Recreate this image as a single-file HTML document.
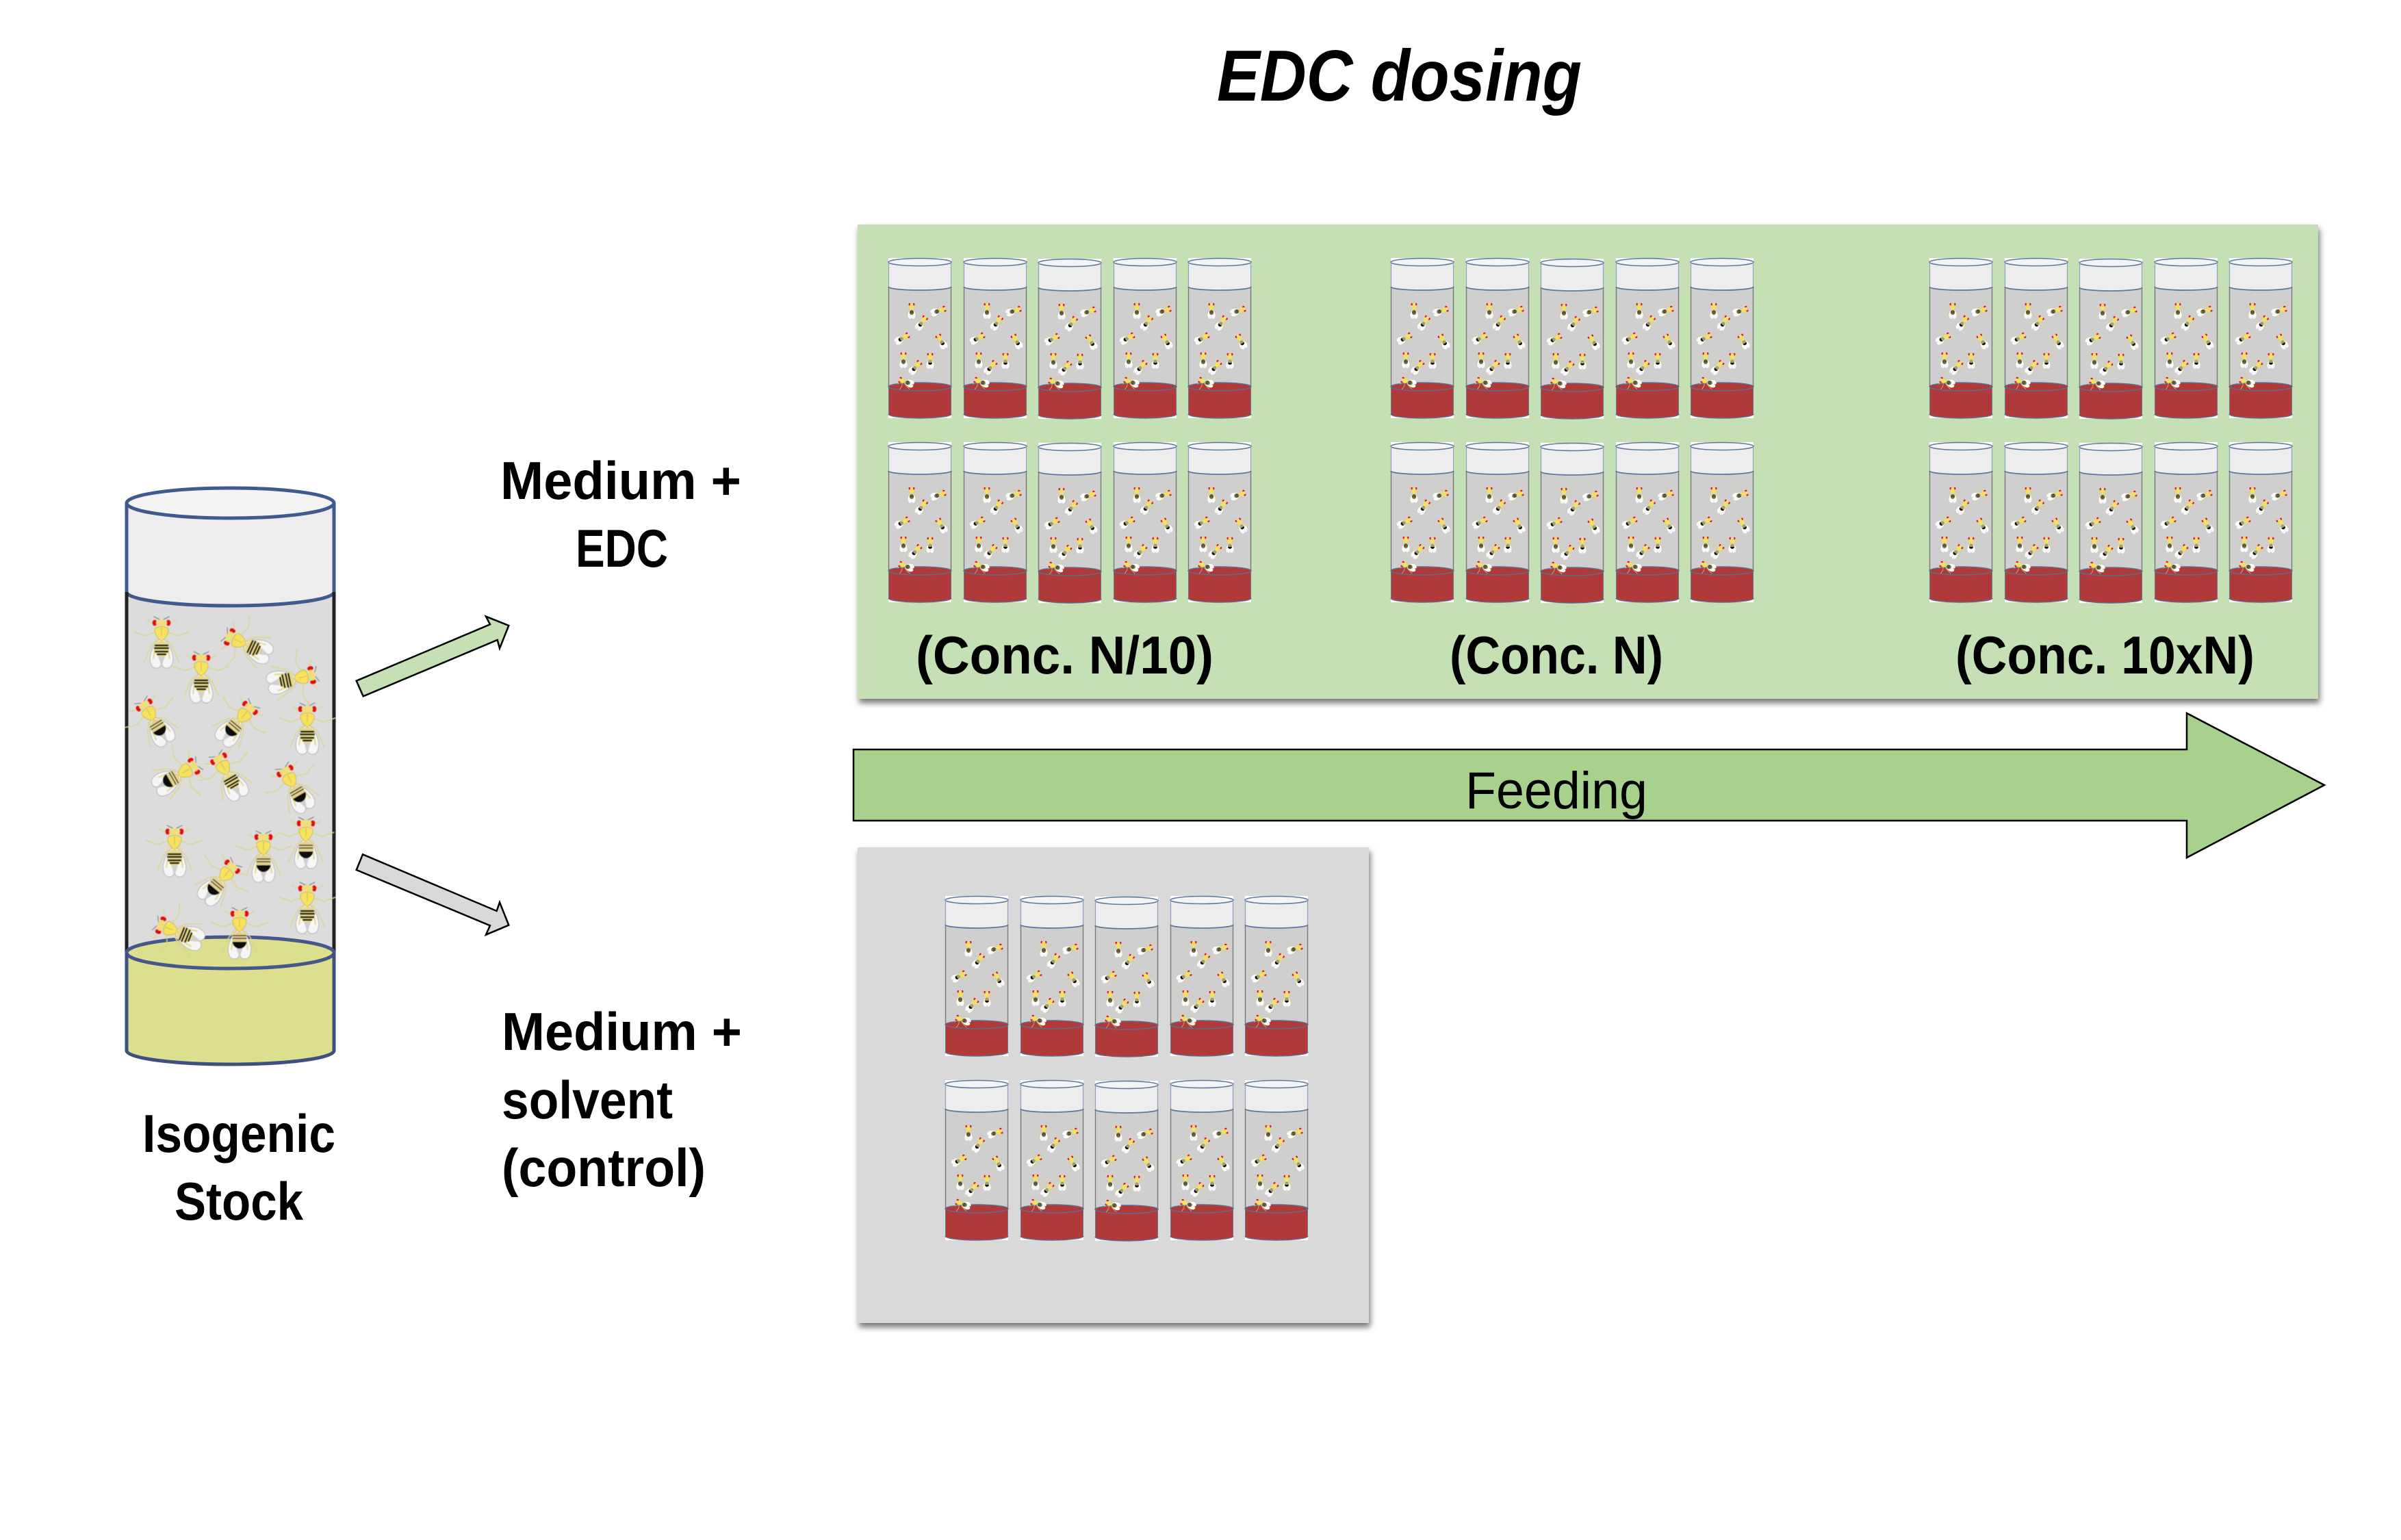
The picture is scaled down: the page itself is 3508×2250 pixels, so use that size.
<!DOCTYPE html>
<html><head><meta charset="utf-8"><title>EDC dosing</title>
<style>html,body{margin:0;padding:0;background:#fff}svg{display:block}
text{font-family:"Liberation Sans",sans-serif;fill:#000}</style></head>
<body>
<svg xmlns="http://www.w3.org/2000/svg" width="3508" height="2250" viewBox="0 0 3508 2250">
<defs>
<filter id="sh" x="-5%" y="-5%" width="110%" height="110%"><feDropShadow dx="2" dy="6" stdDeviation="4.5" flood-color="#000" flood-opacity=".55"/></filter>
<filter id="soft" x="-5%" y="-5%" width="110%" height="110%"><feGaussianBlur stdDeviation=".5"/></filter>
<g id="flybase">
<g fill="none" stroke="#dcd48e" stroke-width="1.5" stroke-linecap="round">
<path d="M-8-23L-22-31M8-23L22-31M-10-13L-24-8L-41-14M10-13L24-8L41-14M-8-2L-16 8L-25 29M8-2L16 8L25 29"/>
<path d="M-3-32L-11-36M3-32L11-36" stroke="#777" stroke-width="1"/>
</g>
<path d="M-3-3C-12 3-19 22-16 31C-14 41-3 41-1 35L0 29L1 35C3 41 14 41 16 31C19 22 12 3 3-3Z" fill="#f6f6f6" stroke="#adadad" stroke-width=".9"/>
<path d="M-5 22L0 37L5 22Z" fill="#cfcfcf"/>
<path d="M-8-2L-12 26M8-2L12 26" stroke="#e2d98f" stroke-width="2.200" fill="none"/>
<ellipse cx="-10" cy="-27" rx="3.400" ry="4.400" fill="#e01010"/><ellipse cx="10" cy="-27" rx="3.400" ry="4.400" fill="#e01010"/>
<ellipse cx="0" cy="-27" rx="8" ry="5" fill="#f1de7a"/>
<path d="M-10-17C-10-23 10-23 10-17C10-9 4-2 0-1C-4-2-10-9-10-17Z" fill="#f6e160" stroke="#c7ae3a" stroke-width=".8"/>
<path d="M0-20V-8" stroke="#c7ae3a" stroke-width=".8"/>
</g>
<g id="fs"><use href="#flybase"/>
<ellipse cx="0" cy="11" rx="10.500" ry="12" fill="#e8d88a"/>
<path d="M-10 6H10M-11 10H11M-10 15H10M-7 19H7" stroke="#111" stroke-width="2.400"/>
</g>
<g id="fb"><use href="#flybase"/>
<ellipse cx="0" cy="11" rx="10.500" ry="12" fill="#e3d28e"/>
<path d="M-10.400 14H10.400C10 20 5 24 0 24C-5 24-10 20-10.400 14Z" fill="#0c0c0c"/>
<path d="M-10 5H10M-10.500 9H10.500" stroke="#333" stroke-width="1.500"/>
</g>
<g id="sfbase">
<g fill="none" stroke="#d6cd90" stroke-width="2.200" stroke-linecap="round">
<path d="M-8-23L-22-31M8-23L22-31M-10-13L-24-9L-42-14M10-13L24-9L42-14M-8-2L-16 8L-26 30M8-2L16 8L26 30"/>
</g>
<path d="M-3-3C-14 3-21 22-17 31C-14 43-3 43-1 37L0 30L1 37C3 43 14 43 17 31C21 22 14 3 3-3Z" fill="#fafafa"/>
<ellipse cx="-10" cy="-27" rx="4.500" ry="5.500" fill="#e81515"/><ellipse cx="10" cy="-27" rx="4.500" ry="5.500" fill="#e81515"/>
<ellipse cx="0" cy="-26" rx="8" ry="5" fill="#f1de7a"/>
<path d="M-11-17C-11-24 11-24 11-17C11-8 4-1 0 0C-4-1-11-8-11-17Z" fill="#f5e05c"/>
</g>
<g id="s2"><use href="#sfbase"/><ellipse cx="0" cy="11" rx="10" ry="12" fill="#7d7648"/><path d="M-9 7H9M-9 13H9" stroke="#3a3826" stroke-width="3"/></g>
<g id="b2"><use href="#sfbase"/><ellipse cx="0" cy="10" rx="10" ry="12" fill="#a59c68"/><path d="M-9.500 13H9.500C9 19 5 22 0 22C-5 22-9 19-9.500 13Z" fill="#111"/></g>
<g id="vial">
<rect width="92" height="234" fill="#fff"/>
<rect x="0" y="6" width="92" height="184" fill="#cfcfcf"/>
<path d="M0 6V42A46 5 0 0 0 92 42V6Z" fill="#ededed"/>
<ellipse cx="46" cy="6" rx="46" ry="5.500" fill="#f4f4f4" stroke="#5f779f" stroke-width="1.600"/>
<path d="M0 42A46 5 0 0 0 92 42" fill="none" stroke="#5f779f" stroke-width="1.800"/>
<path d="M.5 6V42M91.500 6V42" stroke="#8ea0bd" stroke-width="1.200"/>
<path d="M.5 42V188M91.500 42V188" stroke="#777" stroke-width="1.400"/>
<path d="M0 188A46 6 0 0 1 92 188V228A46 6 0 0 1 0 228Z" fill="#b03a3a"/>
<path d="M0 188A46 6 0 0 1 92 188A46 6 0 0 1 0 188Z" fill="none" stroke="#5f6d8f" stroke-width="1.500"/>
<path d="M.5 188V228M91.500 188V228" stroke="#6f7690" stroke-width="1"/>
<path d="M0 228A46 6 0 0 0 92 228" fill="none" stroke="#5f6d8f" stroke-width="1.400"/>
<g transform="translate(34 76) scale(.31)"><use href="#s2"/></g>
<g transform="translate(74 77) rotate(70) scale(.31)"><use href="#s2"/></g>
<g transform="translate(49 94) rotate(35) scale(.31)"><use href="#b2"/></g>
<g transform="translate(21 117) rotate(60) scale(.31)"><use href="#b2"/></g>
<g transform="translate(77 121) rotate(-30) scale(.31)"><use href="#b2"/></g>
<g transform="translate(22 148) scale(.31)"><use href="#s2"/></g>
<g transform="translate(61 149) scale(.31)"><use href="#b2"/></g>
<g transform="translate(40 159) rotate(40) scale(.31)"><use href="#b2"/></g>
<g transform="translate(25 181) rotate(-70) scale(.31)"><use href="#s2"/></g>
</g>
<g id="row">
<use href="#vial" x="0" y="0"/><use href="#vial" x="110" y="0"/><use href="#vial" x="219" y="1"/><use href="#vial" x="329" y="0"/><use href="#vial" x="438" y="0"/>
</g>
<g id="block"><use href="#row"/><use href="#row" y="269"/></g>
</defs>

<rect width="3508" height="2250" fill="#fff"/>

<!-- big vial -->
<rect x="185" y="735" width="303" height="660" fill="#dcdcdc"/>
<path d="M185 735V865A151.500 20 0 0 0 488 865V735Z" fill="#ededed"/>
<ellipse cx="336.500" cy="735" rx="151.500" ry="22" fill="#f4f4f4" stroke="#3f5a8c" stroke-width="5"/>
<path d="M185 865A151.500 20 0 0 0 488 865" fill="none" stroke="#3f5a8c" stroke-width="5"/>
<path d="M185 735V865M488 735V865" stroke="#3f5a8c" stroke-width="5"/>
<path d="M185 865V1392M488 865V1392" stroke="#222" stroke-width="5"/>
<path d="M185 1392A151.500 23 0 0 1 488 1392V1535A151.500 20 0 0 1 185 1535Z" fill="#dcdf8d"/>
<path d="M185 1392A151.500 23 0 0 1 488 1392A151.500 23 0 0 1 185 1392Z" fill="none" stroke="#46578a" stroke-width="5"/>
<path d="M185 1392V1535A151.500 20 0 0 0 488 1535V1392" fill="none" stroke="#3f5080" stroke-width="5"/>
<g filter="url(#soft)">
<g transform="translate(236 937)"><use href="#fs"/></g>
<g transform="translate(294 988)"><use href="#fs"/></g>
<g transform="translate(360 942) rotate(-65)"><use href="#fs"/></g>
<g transform="translate(429 992) rotate(78)"><use href="#fs"/></g>
<g transform="translate(225 1053) rotate(-32)"><use href="#fb"/></g>
<g transform="translate(348 1055) rotate(40)"><use href="#fb"/></g>
<g transform="translate(449 1063)"><use href="#fs"/></g>
<g transform="translate(260 1133) rotate(60)"><use href="#fb"/></g>
<g transform="translate(333 1132) rotate(-30)"><use href="#fs"/></g>
<g transform="translate(430 1150) rotate(-30)"><use href="#fb"/></g>
<g transform="translate(255 1242)"><use href="#fs"/></g>
<g transform="translate(322 1287) rotate(40)"><use href="#fb"/></g>
<g transform="translate(385 1250)"><use href="#fb"/></g>
<g transform="translate(447 1230)"><use href="#fb"/></g>
<g transform="translate(449 1325)"><use href="#fs"/></g>
<g transform="translate(260 1362) rotate(-68)"><use href="#fs"/></g>
<g transform="translate(350 1362)"><use href="#fb"/></g>
</g>

<!-- small arrows -->
<polygon points="520.700,994.700 530.700,1017.300 726.700,935 730,947.300 743.300,914 710,900.700 716,912.300" fill="#c5e0b4" stroke="#000" stroke-width="2.500"/>
<polygon points="530,1248.300 520.700,1271 716,1352.300 710,1365.700 743.300,1351.700 730,1318.300 725.700,1331" fill="#d9d9d9" stroke="#000" stroke-width="2.500"/>

<!-- panels -->
<rect x="1253" y="328" width="2134" height="693" fill="#c5e0b4" filter="url(#sh)"/>
<rect x="1253" y="1238" width="747" height="695" fill="#d9d9d9" filter="url(#sh)"/>

<use href="#block" x="1298" y="377"/>
<use href="#block" x="2032" y="377"/>
<use href="#block" x="2819" y="377"/>
<use href="#block" x="1381" y="1309"/>

<!-- feeding arrow -->
<polygon points="1247,1095 3195,1095 3195,1042 3396,1147 3195,1253 3195,1199 1247,1199" fill="#a9d18e" stroke="#000" stroke-width="2.500"/>

<!-- labels -->
<text x="1778" y="147" font-size="106" font-weight="700" font-style="italic" textLength="533" lengthAdjust="spacingAndGlyphs">EDC dosing</text>
<text x="731" y="729" font-size="78" font-weight="700" textLength="352" lengthAdjust="spacingAndGlyphs">Medium +</text>
<text x="841" y="828" font-size="78" font-weight="700" textLength="135" lengthAdjust="spacingAndGlyphs">EDC</text>
<text x="733" y="1534" font-size="78" font-weight="700" textLength="351" lengthAdjust="spacingAndGlyphs">Medium +</text>
<text x="733" y="1634" font-size="78" font-weight="700" textLength="250" lengthAdjust="spacingAndGlyphs">solvent</text>
<text x="733" y="1733" font-size="78" font-weight="700" textLength="298" lengthAdjust="spacingAndGlyphs">(control)</text>
<text x="208" y="1683" font-size="78" font-weight="700" textLength="282" lengthAdjust="spacingAndGlyphs">Isogenic</text>
<text x="255" y="1782" font-size="78" font-weight="700" textLength="188" lengthAdjust="spacingAndGlyphs">Stock</text>
<text x="1338" y="984" font-size="78" font-weight="700" textLength="435" lengthAdjust="spacingAndGlyphs">(Conc. N/10)</text>
<text x="2118" y="984" font-size="78" font-weight="700" textLength="312" lengthAdjust="spacingAndGlyphs">(Conc. N)</text>
<text x="2857" y="984" font-size="78" font-weight="700" textLength="437" lengthAdjust="spacingAndGlyphs">(Conc. 10xN)</text>
<text x="2141" y="1181" font-size="76" textLength="266" lengthAdjust="spacingAndGlyphs">Feeding</text>
</svg>
</body></html>
